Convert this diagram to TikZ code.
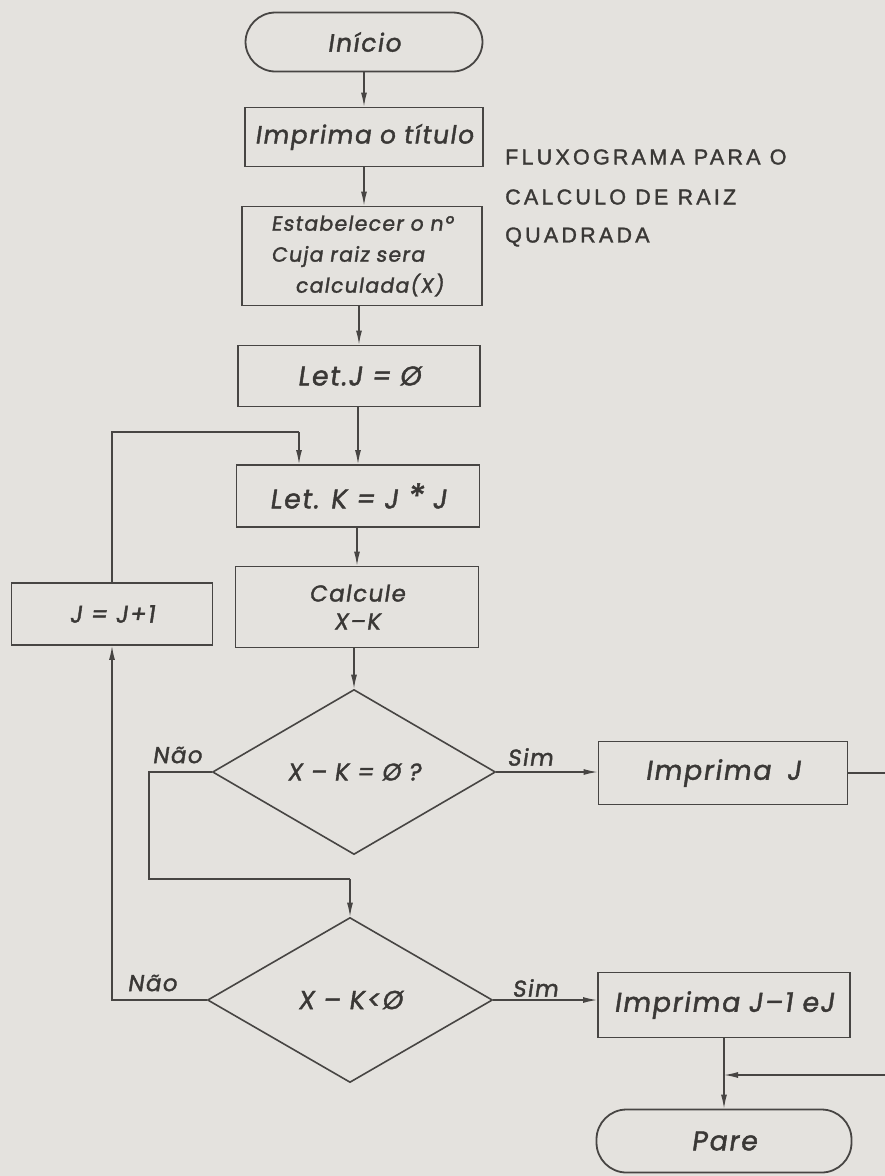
\documentclass[tikz,border=0pt]{standalone}
\usepackage{fontspec}
\usetikzlibrary{shapes.geometric,arrows.meta}
\newfontfamily\lett[FakeSlant=0.15,FakeBold=1.6,LetterSpace=6]{Poppins}
\newfontfamily\ttl[LetterSpace=15,FakeBold=1.5]{Liberation Sans}
\definecolor{paper}{HTML}{E4E2DE}
\definecolor{ink}{HTML}{474543}
\definecolor{txt}{HTML}{3A3836}
\tikzset{
  boxst/.style={draw=ink,line width=1.8pt,rectangle,inner sep=0pt,text=txt,font=\lett\fontsize{25}{29}\selectfont},
  termst/.style={boxst,rounded corners=30pt},
  decst/.style={draw=ink,line width=1.6pt,diamond,aspect=1.7,inner sep=0pt,text=txt,font=\lett\fontsize{24}{26}\selectfont},
  conn/.style={draw=ink,line width=1.3pt},
  arr/.style={conn,-{Latex[length=14pt,width=6pt]}},
  lbl/.style={text=txt,font=\lett\fontsize{23}{26}\selectfont,inner sep=0pt},
  titlest/.style={text=txt,font=\ttl\fontsize{21.5}{24}\selectfont,inner sep=0pt,anchor=west}
}
\begin{document}
\begin{tikzpicture}[x=1pt,y=-1pt]
\useasboundingbox (0,0) rectangle (885,1176);
\clip (0,0) rectangle (885,1176);
\fill[paper] (0,0) rectangle (885,1176);

\node[termst,minimum width=237pt,minimum height=59pt] (ini) at (364,42) {Início};
\node[boxst,minimum width=238pt,minimum height=59pt] (tit) at (364,137) {Imprima o título};
\node[boxst,minimum width=240pt,minimum height=99pt,font=\lett\fontsize{20.5}{31}\selectfont,align=left] (est) at (362,256) {Estabelecer o nº\\Cuja raiz sera\\\hspace*{24pt}calculada(X)};
\node[boxst,minimum width=242pt,minimum height=61pt,font=\lett\fontsize{27}{30}\selectfont] (letj) at (359,376) {Let.J = Ø};
\node[boxst,minimum width=243pt,minimum height=62pt,font=\lett\fontsize{27}{30}\selectfont] (letk) at (358,496) {Let. K = J {\fontsize{34}{30}\selectfont *} J};
\node[boxst,minimum width=243pt,minimum height=81pt,align=center,font=\lett\fontsize{23}{28}\selectfont] (calc) at (357,607) {Calcule\\X–K};
\node[decst,minimum width=283pt,minimum height=165pt] (d1) at (354,772) {X – K = Ø ?};
\node[decst,minimum width=285pt,minimum height=165pt,font=\lett\fontsize{26}{28}\selectfont] (d2) at (350,1000) {X – K<Ø};
\node[boxst,minimum width=201pt,minimum height=62pt,font=\lett\fontsize{24}{26}\selectfont] (jj) at (112,614) {J = J+1};
\node[boxst,minimum width=249pt,minimum height=63pt,font=\lett\fontsize{27}{30}\selectfont] (impj) at (723,773) {Imprima\hspace{16pt}J};
\node[boxst,minimum width=252pt,minimum height=65pt,font=\lett\fontsize{27}{30}\selectfont] (impj1) at (724,1005) {Imprima J–1 eJ};
\node[termst,minimum width=255pt,minimum height=63pt,font=\lett\fontsize{27}{30}\selectfont] (pare) at (724,1141) {Pare};

\node[titlest] (t1) at (505,157) {FLUXOGRAMA PARA O};
\node[titlest] (t2) at (505,197) {CALCULO DE RAIZ};
\node[titlest] (t3) at (505,237) {QUADRADA};

\node[lbl] (nao1) at (177,755) {Não};
\node[lbl] (nao2) at (152,983) {Não};
\node[lbl] (sim1) at (530,757) {Sim};
\node[lbl] (sim2) at (535,988) {Sim};

\coordinate (c1a) at (149,772);
\coordinate (c1b) at (149,879);
\coordinate (c1c) at (350,879);
\coordinate (lk) at (299,432);
\coordinate (ra) at (905,773);
\coordinate (rb) at (905,1075);
\coordinate (jn) at (724,1075);

\draw[arr] (ini) -- (tit);
\draw[arr] (tit) -- (tit|-est.north);
\draw[arr] (est.south-|letj) -- (letj);
\draw[arr] (letj.south-|letk) -- (letk);
\draw[arr] (letk.south-|calc) -- (calc);
\draw[arr] (calc.south-|d1) -- (d1);
\draw[arr] (d1.east) -- (d1.east-|impj.west);
\draw[arr] (d2.east) -- (d2.east-|impj1.west);
\draw[conn] (d1.west) -- (c1a) -- (c1b) -- (c1c);
\draw[arr] (c1c) -- (d2.north);
\draw[arr] (d2.west) -| (jj.south);
\draw[conn] (jj.north) |- (lk);
\draw[arr] (lk) -- (lk|-letk.north);
\draw[conn] (impj.east) -- (ra) -- (rb);
\draw[arr] (rb) -- (jn);
\draw[arr] (impj1) -- (pare);
\end{tikzpicture}
\end{document}
